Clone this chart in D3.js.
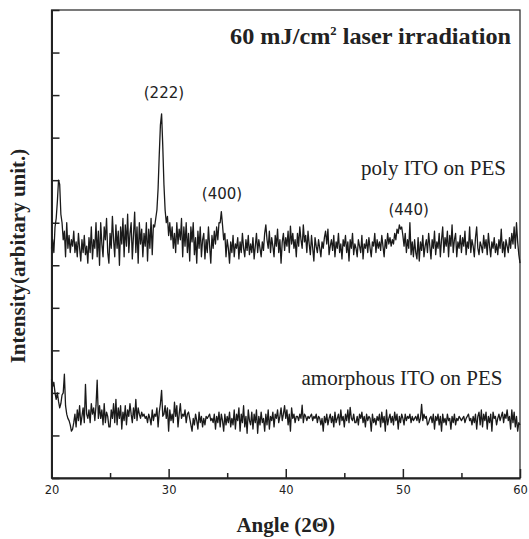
<!DOCTYPE html>
<html>
<head>
<meta charset="utf-8">
<script src="https://cdn.jsdelivr.net/npm/d3@7"></script>
<style>
    body { margin: 0; background: #fff; }
</style>
</head>
<body>
<div id="chart"></div>
<script>
// XRD scans, step 0.1 deg from 20 to 60 (intensity in arbitrary counts)
const angleStart = 20;
const angleStep = 0.1;

const xTicks = [20, 30, 40, 50, 60];
const xMinorTicks = [25, 35, 45, 55];
const yTicks = [0, 100, 200, 300, 400, 500, 600, 700, 800, 900, 1000, 1100];

const polyITO = [
    540, 560, 530, 590, 610, 650, 700, 690, 620, 600,
    560, 580, 520, 600, 540, 570, 530, 560, 545, 580,
    530, 555, 520, 575, 540, 510, 560, 530, 570, 525,
    545, 505, 565, 530, 590, 515, 560, 540, 600, 520,
    580, 500, 600, 550, 520, 590, 560, 610, 530, 505,
    575, 540, 615, 560, 520, 595, 540, 580, 500, 590,
    550, 610, 520, 595, 545, 620, 530, 575, 600, 515,
    570, 625, 530, 590, 505, 600, 550, 585, 520, 575,
    545, 600, 510, 585, 540, 610, 525, 595, 590, 610,
    630, 680, 760, 830, 856, 780, 690, 630, 600, 615,
    570, 600, 560, 590, 540, 575, 530, 600, 550, 585,
    560, 610, 520, 590, 545, 600, 530, 575, 510, 590,
    555, 600, 525, 565, 505, 580, 540, 590, 520, 560,
    575, 515, 560, 530, 590, 545, 505, 570, 540, 580,
    550, 590, 560, 600, 600, 626, 595, 560, 575, 520,
    560, 540, 505, 555, 530, 570, 520, 550, 540, 565,
    515, 555, 530, 575, 540, 520, 560, 535, 570, 525,
    550, 530, 565, 515, 545, 575, 530, 560, 540, 520,
    555, 535, 575, 595, 560, 540, 580, 530, 565, 545,
    520, 570, 545, 585, 530, 560, 505, 555, 575, 535,
    565, 545, 580, 530, 592, 550, 575, 540, 560, 520,
    575, 545, 590, 560, 540, 595, 555, 570, 530, 580,
    550, 525, 570, 540, 510, 565, 545, 530, 560, 540,
    520, 555, 540, 565, 580, 550, 585, 525, 545, 560,
    535, 570, 520, 555, 540, 575, 530, 550, 515, 560,
    545, 570, 530, 555, 510, 560, 540, 575, 525, 550,
    540, 520, 560, 545, 530, 570, 515, 550, 540, 560,
    530, 565, 540, 520, 555, 545, 575, 530, 560, 540,
    555, 535, 570, 545, 520, 560, 540, 575, 550, 565,
    545, 560, 550, 575, 560, 585, 575, 595, 585, 590,
    570, 545, 575, 530, 560, 540, 600, 525, 555, 520,
    560, 530, 515, 565, 510, 555, 535, 570, 520, 545,
    560, 530, 575, 545, 515, 560, 540, 580, 525, 555,
    540, 575, 520, 560, 590, 530, 565, 545, 580, 520,
    570, 545, 595, 530, 560, 575, 520, 555, 540, 570,
    530, 565, 545, 580, 525, 555, 540, 590, 530, 560,
    545, 520, 565, 590, 540, 525, 555, 545, 530, 570,
    540, 560, 525, 575, 545, 520, 555, 540, 565, 530,
    550, 525, 560, 540, 585, 530, 555, 520, 560, 545,
    530, 565, 540, 575, 550, 590, 540, 600, 555, 525,
    505
];

const amorphousITO = [
    232, 215, 225, 200, 185, 200, 180, 165, 175, 195,
    200, 244, 170, 150, 140, 135, 125, 110, 115, 130,
    150, 120, 160, 135, 170, 125, 145, 165, 130, 220,
    150, 140, 160, 130, 175, 150, 165, 135, 170, 230,
    140, 170, 140, 160, 125, 175, 130, 155, 145, 120,
    120, 160, 140, 175, 130, 185, 125, 165, 140, 170,
    115, 155, 135, 170, 125, 160, 145, 175, 150, 130,
    165, 140, 185, 135, 165, 150, 140, 155, 145, 150,
    140, 145, 130, 150, 140, 125, 160, 135, 150, 145,
    165, 120, 155, 175, 206, 145, 150, 170, 140, 165,
    110, 160, 135, 150, 130, 178, 145, 170, 120, 150,
    175, 140, 150, 145, 160, 130, 150, 155, 140, 125,
    110, 140, 125, 150, 135, 115, 155, 130, 145, 120,
    140, 125, 145, 140, 145, 150, 135, 140, 130, 150,
    115, 145, 130, 155, 120, 150, 135, 110, 150, 125,
    145, 130, 155, 120, 140, 125, 160, 115, 150, 135,
    165, 110, 150, 130, 170, 120, 145, 105, 160, 135,
    125, 155, 115, 150, 130, 160, 105, 145, 125, 155,
    130, 140, 110, 150, 125, 160, 115, 145, 135, 155,
    120, 150, 140, 160, 130, 145, 165, 135, 150, 170,
    140, 160, 125, 150, 110, 165, 140, 150, 130, 145,
    145, 135, 150, 140, 171, 130, 150, 145, 135, 145,
    140, 145, 150, 135, 145, 140, 150, 130, 145, 140,
    125, 140, 110, 145, 130, 150, 125, 140, 150, 130,
    145, 120, 155, 130, 140, 150, 125, 160, 135, 145,
    120, 150, 135, 160, 130, 166, 140, 135, 150, 130,
    130, 145, 125, 150, 140, 155, 130, 145, 120, 150,
    135, 145, 140, 110, 150, 130, 140, 125, 145, 135,
    150, 120, 155, 130, 145, 110, 160, 125, 140, 150,
    130, 145, 125, 155, 135, 150, 115, 145, 130, 150,
    140, 125, 150, 135, 145, 140, 150, 130, 145, 135,
    140, 145, 135, 150, 130, 140, 173, 135, 150, 140,
    145, 125, 130, 140, 145, 130, 150, 115, 145, 135,
    150, 125, 145, 110, 150, 130, 140, 125, 150, 135,
    140, 115, 145, 130, 150, 125, 140, 135, 145, 140,
    135, 140, 145, 130, 140, 145, 150, 135, 140, 125,
    145, 130, 150, 115, 145, 155, 125, 160, 120, 150,
    135, 155, 115, 145, 130, 150, 110, 155, 140, 145,
    125, 140, 150, 135, 145, 155, 130, 150, 140, 160,
    135, 145, 115, 160, 130, 155, 120, 145, 110, 130,
    125
];

// peak labels: [text, angle, intensity at baseline]
const peakLabels = [
    ["(222)", 29.6, 892],
    ["(400)", 34.56, 656],
    ["(440)", 50.49, 619]
];

const margin = { top: 10, right: 9, bottom: 61, left: 51.5 };
const width = 529 - margin.left - margin.right;
const height = 539 - margin.top - margin.bottom;

const svg = d3.select("#chart")
    .append("svg")
    .attr("width", 529)
    .attr("height", 539)
    .append("g")
    .attr("transform", `translate(${margin.left},${margin.top})`);

const x = d3.scaleLinear().domain([20, 60]).range([0, width]);
const y = d3.scaleLinear().domain([0, 1100]).range([height, 0]);

const toPoints = arr => arr.map((v, i) => [angleStart + i * angleStep, v]);

// Frame (top / right thinner)
svg.append("rect")
    .attr("width", width)
    .attr("height", height)
    .attr("fill", "none")
    .attr("stroke", "#222")
    .attr("stroke-width", 1.2);

// Bottom axis, ticks pointing inward
const xAxis = svg.append("g")
    .attr("transform", `translate(0,${height})`)
    .call(d3.axisBottom(x).tickValues(xTicks).tickSizeInner(-9).tickSizeOuter(0).tickPadding(8));
xAxis.select(".domain").attr("stroke", "#222").attr("stroke-width", 2);
xAxis.selectAll(".tick line").attr("stroke", "#222").attr("stroke-width", 1.5);
xAxis.selectAll("text")
    .attr("font-family", "'DejaVu Sans', sans-serif")
    .attr("font-size", "11.5px")
    .attr("fill", "#222");

svg.append("g")
    .attr("transform", `translate(0,${height})`)
    .call(d3.axisBottom(x).tickValues(xMinorTicks).tickSizeInner(-5).tickSizeOuter(0).tickFormat(""))
    .call(g => g.select(".domain").remove())
    .selectAll(".tick line").attr("stroke", "#222").attr("stroke-width", 1.5);

// Left axis, no labels
const yAxis = svg.append("g")
    .call(d3.axisLeft(y).tickValues(yTicks).tickSizeInner(-8).tickSizeOuter(0).tickFormat(""));
yAxis.select(".domain").attr("stroke", "#222").attr("stroke-width", 2);
yAxis.selectAll(".tick line").attr("stroke", "#222").attr("stroke-width", 1.5);

// Traces
const line = d3.line()
    .x(d => x(d[0]))
    .y(d => y(d[1]));

[polyITO, amorphousITO].forEach(series => {
    svg.append("path")
        .datum(toPoints(series))
        .attr("fill", "none")
        .attr("stroke", "#1a1a1a")
        .attr("stroke-width", 1.3)
        .attr("stroke-linejoin", "round")
        .attr("d", line);
});

// Peak labels
svg.selectAll(".peak")
    .data(peakLabels)
    .enter()
    .append("text")
    .attr("class", "peak")
    .attr("x", d => x(d[1]))
    .attr("y", d => y(d[2]))
    .attr("text-anchor", "middle")
    .attr("font-family", "'DejaVu Sans', sans-serif")
    .attr("font-size", "15px")
    .attr("fill", "#222")
    .text(d => d[0]);

// Series labels
const serif = "'Liberation Serif', 'Times New Roman', serif";
svg.append("text")
    .attr("x", x(58.8))
    .attr("y", y(712))
    .attr("text-anchor", "end")
    .attr("font-family", serif)
    .attr("font-size", "21px")
    .attr("fill", "#222")
    .text("poly ITO on PES");

svg.append("text")
    .attr("x", x(58.5))
    .attr("y", y(219))
    .attr("text-anchor", "end")
    .attr("font-family", serif)
    .attr("font-size", "21px")
    .attr("fill", "#222")
    .text("amorphous ITO on PES");

// Title
const title = svg.append("text")
    .attr("x", x(59.24))
    .attr("y", y(1020))
    .attr("text-anchor", "end")
    .attr("font-family", serif)
    .attr("font-weight", "bold")
    .attr("font-size", "23px")
    .attr("textLength", 281)
    .attr("lengthAdjust", "spacingAndGlyphs")
    .attr("fill", "#222");
title.append("tspan").text("60 mJ/cm");
title.append("tspan").attr("dy", -9).attr("font-size", "12px").text("2");
title.append("tspan").attr("dy", 9).text(" laser irradiation");

// Axis titles
svg.append("text")
    .attr("x", width / 2)
    .attr("y", height + 54)
    .attr("text-anchor", "middle")
    .attr("font-family", serif)
    .attr("font-weight", "bold")
    .attr("font-size", "21px")
    .attr("fill", "#222")
    .text("Angle (2\u0398)");

svg.append("text")
    .attr("transform", "rotate(-90)")
    .attr("x", -246)
    .attr("y", -27)
    .attr("text-anchor", "middle")
    .attr("font-family", serif)
    .attr("font-weight", "bold")
    .attr("font-size", "21px")
    .attr("fill", "#222")
    .text("Intensity(arbitary unit.)");
</script>
</body>
</html>
